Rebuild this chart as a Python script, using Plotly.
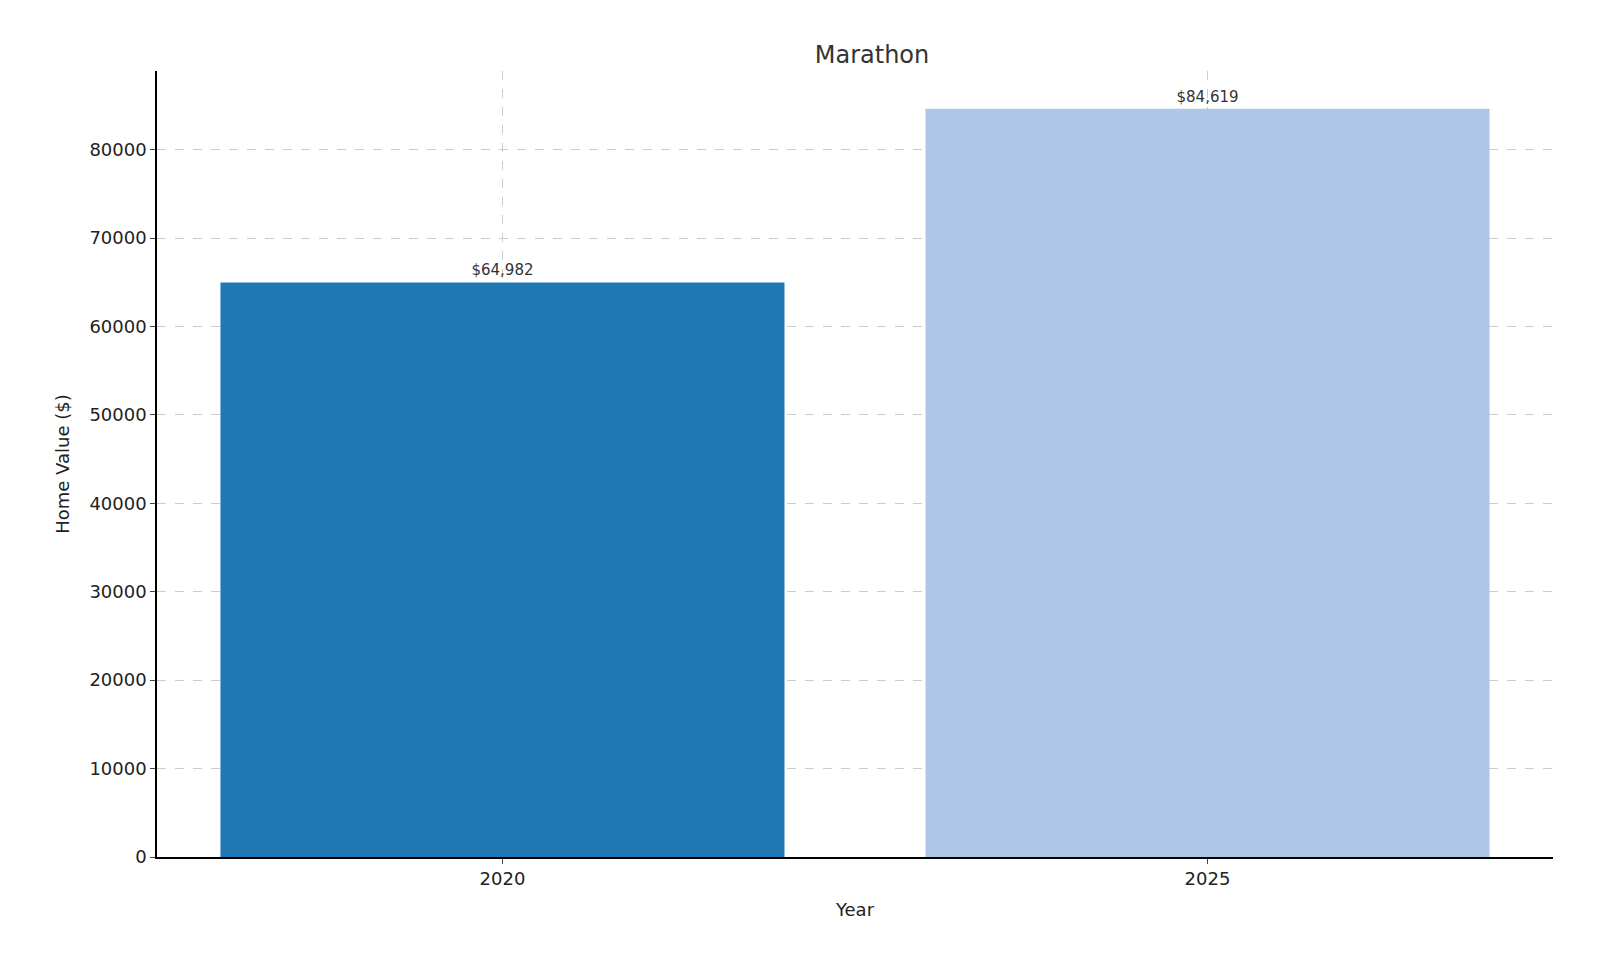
import plotly.graph_objects as go

years = ["2020", "2025"]
values = [64982, 84619]
colors = ["#1f77b4", "#aec7e8"]
labels = ["$64,982", "$84,619"]

fig = go.Figure(go.Bar(
    x=[0, 1], y=values, width=0.8, marker=dict(color=colors, line=dict(width=0)),
    text=labels, textposition="outside", cliponaxis=False,
    textfont=dict(size=15, color="#333333"),
))
fig.update_layout(
    width=1600, height=960, plot_bgcolor="white", paper_bgcolor="white",
    font=dict(family="DejaVu Sans", color="#222222"),
    title=dict(text="Marathon", x=0.54, xanchor="center", y=0.96, font=dict(size=24, color="#333333")),
    margin=dict(l=149, r=55, t=63, b=111),
    showlegend=False,
)
fig.update_xaxes(
    range=[-0.49, 1.49], tickvals=[0, 1], ticktext=years, tickfont=dict(size=18),
    title=dict(text="Year", font=dict(size=18)),
    showline=True, linecolor="black", linewidth=1.5, ticks="outside", ticklen=5,
    showgrid=True, gridcolor="#cccccc", griddash="dash", zeroline=False,
)
fig.update_yaxes(
    range=[0, 88900], dtick=10000, tickformat="d", tickfont=dict(size=18),
    title=dict(text="Home Value ($)", font=dict(size=18)),
    showline=True, linecolor="black", linewidth=1.5, ticks="outside", ticklen=5,
    showgrid=True, gridcolor="#cccccc", griddash="dash", zeroline=False,
)
fig.write_html("out.html")
